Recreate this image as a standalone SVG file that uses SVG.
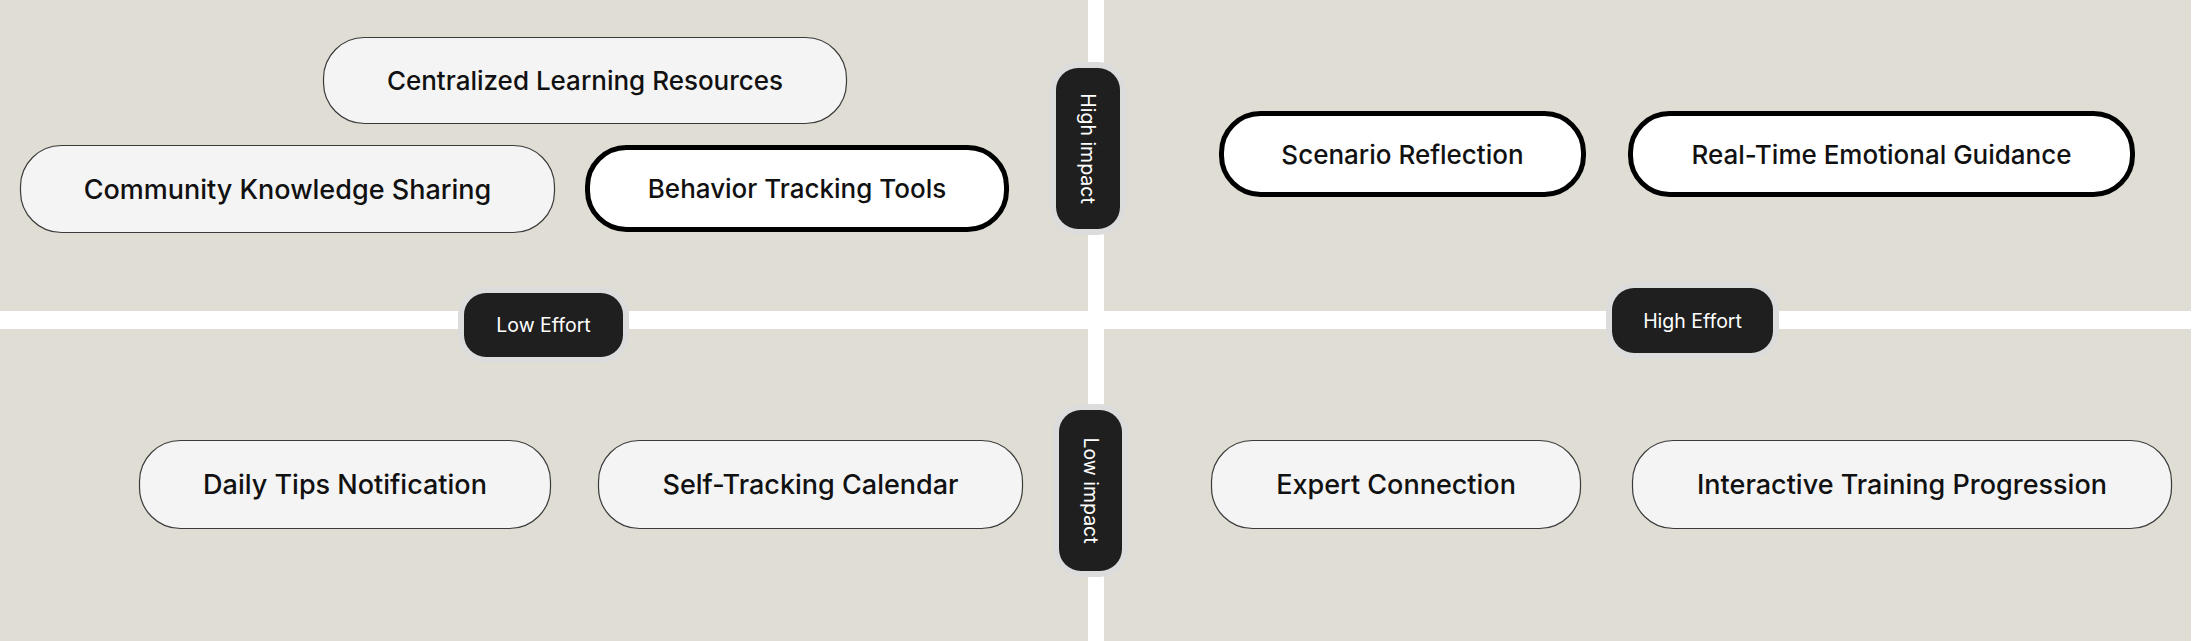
<svg xmlns="http://www.w3.org/2000/svg" width="2192" height="641" viewBox="0 0 2192 641">
<style>
.quad{fill:#e0ded4}
.pill{fill:#f4f4f4;stroke:#3a3a3a;stroke-width:1.2}
.pill-strong{fill:#ffffff;stroke:#000000;stroke-width:5}
.ptext{font-family:Inter,"Noto Sans",sans-serif;font-size:26px;font-weight:500;fill:#111111;text-anchor:middle;dominant-baseline:central}
.big{font-size:27px}
.halo{fill:#dcdcdc}
.lab{fill:#1f1f1f}
.ltext{font-family:Inter,"Noto Sans",sans-serif;font-size:19.5px;font-weight:400;fill:#ffffff;text-anchor:middle;dominant-baseline:central}
</style>
<rect x="0" y="0" width="2192" height="641" fill="#ffffff"/>
<g id="quadrants">
<rect class="quad" x="0" y="0" width="1088" height="311"/>
<rect class="quad" x="1104" y="0" width="1087" height="311"/>
<rect class="quad" x="0" y="329" width="1088" height="312"/>
<rect class="quad" x="1104" y="329" width="1087" height="312"/>
</g>
<g id="connectors"></g>
<g id="axis-low-effort">
<rect class="halo" x="458" y="287" width="171" height="76" rx="28"/>
<rect class="lab" x="464" y="293" width="159" height="64" rx="22"/>
<text class="ltext" x="543.5" y="325">Low Effort</text>
</g>
<g id="axis-high-effort">
<rect class="halo" x="1606" y="282" width="173" height="77" rx="28"/>
<rect class="lab" x="1612" y="288" width="161" height="65" rx="22"/>
<text class="ltext" x="1692.5" y="320.5">High Effort</text>
</g>
<g id="axis-high-impact">
<rect class="halo" x="1050" y="62" width="76" height="173" rx="28"/>
<rect class="lab" x="1056" y="68" width="64" height="161" rx="22"/>
<text class="ltext" x="1088" y="148.5" transform="rotate(90 1088 148.5)">High impact</text>
</g>
<g id="axis-low-impact">
<rect class="halo" x="1053" y="404" width="75" height="173" rx="28"/>
<rect class="lab" x="1059" y="410" width="63" height="161" rx="22"/>
<text class="ltext" x="1090.5" y="490.5" transform="rotate(90 1090.5 490.5)">Low impact</text>
</g>
<g id="node-centralized">
<rect class="pill" x="323.5" y="37.5" width="523" height="86" rx="41"/>
<text class="ptext" x="585" y="80.5">Centralized Learning Resources</text>
</g>
<g id="node-community">
<rect class="pill" x="20.5" y="145.5" width="534" height="87" rx="41"/>
<text class="ptext big" x="287.5" y="189">Community Knowledge Sharing</text>
</g>
<g id="node-behavior">
<rect class="pill-strong" x="587.5" y="147.5" width="419" height="82" rx="39"/>
<text class="ptext" x="797" y="188.5">Behavior Tracking Tools</text>
</g>
<g id="node-scenario">
<rect class="pill-strong" x="1221.5" y="113.5" width="362" height="81" rx="39"/>
<text class="ptext" x="1402.5" y="154">Scenario Reflection</text>
</g>
<g id="node-realtime">
<rect class="pill-strong" x="1630.5" y="113.5" width="502" height="81" rx="39"/>
<text class="ptext" x="1881.5" y="154">Real-Time Emotional Guidance</text>
</g>
<g id="node-daily">
<rect class="pill" x="139.5" y="440.5" width="411" height="88" rx="41"/>
<text class="ptext big" x="345" y="484.5">Daily Tips Notification</text>
</g>
<g id="node-selftracking">
<rect class="pill" x="598.5" y="440.5" width="424" height="88" rx="41"/>
<text class="ptext big" x="810.5" y="484.5">Self-Tracking Calendar</text>
</g>
<g id="node-expert">
<rect class="pill" x="1211.5" y="440.5" width="369" height="88" rx="41"/>
<text class="ptext big" x="1396" y="484.5">Expert Connection</text>
</g>
<g id="node-interactive">
<rect class="pill" x="1632.5" y="440.5" width="539" height="88" rx="41"/>
<text class="ptext big" x="1902" y="484.5">Interactive Training Progression</text>
</g>
</svg>
